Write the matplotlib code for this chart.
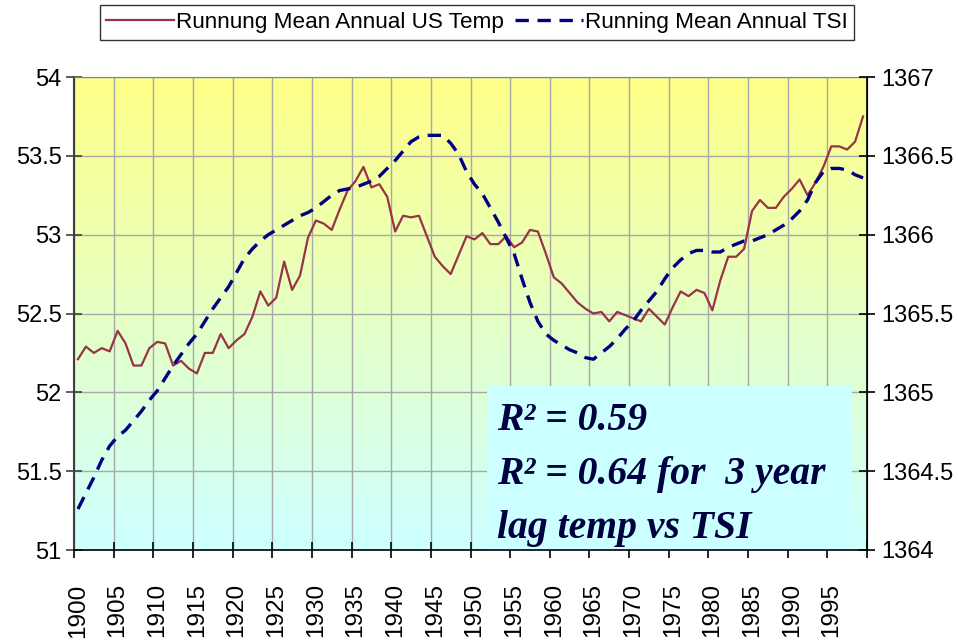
import numpy as np
import matplotlib
matplotlib.use("Agg")
import matplotlib.pyplot as plt
from matplotlib.patches import Rectangle

# Data (running means, one value per year)
years = list(range(1900, 2000))

us_temp = [
    52.21, 52.29, 52.25, 52.28, 52.26, 52.39, 52.31, 52.17, 52.17, 52.28,
    52.32, 52.31, 52.17, 52.20, 52.15, 52.12, 52.25, 52.25, 52.37, 52.28,
    52.33, 52.37, 52.48, 52.64, 52.55, 52.60, 52.83, 52.65, 52.74, 52.98,
    53.09, 53.07, 53.03, 53.16, 53.28, 53.34, 53.43, 53.30, 53.32, 53.24,
    53.02, 53.12, 53.11, 53.12, 52.99, 52.86, 52.80, 52.75, 52.87, 52.99,
    52.97, 53.01, 52.94, 52.94, 52.99, 52.92, 52.95, 53.03, 53.02, 52.88,
    52.73, 52.69, 52.63, 52.57, 52.53, 52.50, 52.51, 52.45, 52.51, 52.49,
    52.47, 52.45, 52.53, 52.48, 52.43, 52.54, 52.64, 52.61, 52.65, 52.63,
    52.52, 52.71, 52.86, 52.86, 52.91, 53.15, 53.22, 53.17, 53.17, 53.24,
    53.29, 53.35, 53.25, 53.33, 53.43, 53.56, 53.56, 53.54, 53.59, 53.75,
]

tsi = [
    1364.26, 1364.36, 1364.46, 1364.57, 1364.66, 1364.72, 1364.76, 1364.82, 1364.88, 1364.95,
    1365.01, 1365.09, 1365.17, 1365.24, 1365.31, 1365.37, 1365.45, 1365.53, 1365.60, 1365.67,
    1365.76, 1365.85, 1365.91, 1365.96, 1366.00, 1366.03, 1366.06, 1366.09, 1366.12, 1366.14,
    1366.17, 1366.21, 1366.25, 1366.28, 1366.29, 1366.30, 1366.32, 1366.34, 1366.37, 1366.42,
    1366.47, 1366.53, 1366.59, 1366.62, 1366.63, 1366.63, 1366.63, 1366.58, 1366.51, 1366.40,
    1366.32, 1366.26, 1366.17, 1366.08, 1365.98, 1365.88, 1365.72, 1365.57, 1365.45, 1365.37,
    1365.33, 1365.30, 1365.27, 1365.25, 1365.22, 1365.21, 1365.25, 1365.29, 1365.34, 1365.40,
    1365.45, 1365.52, 1365.58, 1365.64, 1365.72, 1365.79, 1365.84, 1365.88, 1365.90, 1365.90,
    1365.89, 1365.89, 1365.92, 1365.94, 1365.96, 1365.96, 1365.98, 1366.00, 1366.03, 1366.06,
    1366.10, 1366.15, 1366.22, 1366.33, 1366.40, 1366.42, 1366.42, 1366.41, 1366.38, 1366.36,
]

label_years = list(range(1900, 2000, 5))
temp_ticks = [51, 51.5, 52, 52.5, 53, 53.5, 54]
tsi_ticks = [1364, 1364.5, 1365, 1365.5, 1366, 1366.5, 1367]

temp_label = "Runnung Mean Annual US Temp"
tsi_label = "Running Mean Annual TSI"
note_lines = ["R\u00b2 = 0.59", "R\u00b2 = 0.64 for  3 year", "lag temp vs TSI"]

sans = ["Liberation Sans", "DejaVu Sans"]

fig = plt.figure(figsize=(9.58, 6.43), dpi=100)
fig.patch.set_facecolor("white")
ax = fig.add_axes([74 / 958, 1 - 550 / 643, 793 / 958, 473 / 643])

# Background gradient, light yellow on top to light cyan at the bottom
top = np.array([255, 255, 136]) / 255
bottom = np.array([204, 255, 255]) / 255
t = np.linspace(0, 1, 256)[:, None]
grad = (top * (1 - t) + bottom * t)[:, None, :]
ax.imshow(grad, extent=[0, 1, 0, 1], transform=ax.transAxes,
          aspect="auto", zorder=0, interpolation="bilinear")

# Points sit in the middle of each year's category
x = [y + 0.5 for y in years]
line_t, = ax.plot(x, us_temp, color="#993348", lw=1.6, zorder=3,
                  label=temp_label)

ax.set_xlim(1900, 2000)
ax.set_ylim(51, 54)
ax.set_yticks(temp_ticks)
ax.set_yticklabels(["51", "51.5", "52", "52.5", "53", "53.5", "54"])

ax.set_xticks(list(range(1900, 2001, 5)))
ax.set_xticklabels([])
ax.set_xticks([y + 0.5 for y in label_years], minor=True)
ax.set_xticklabels([str(y) for y in label_years], minor=True, rotation=90,
                   va="top", ha="center")
ax.tick_params(axis="x", which="minor", length=0, pad=24)
ax.tick_params(axis="x", which="major", direction="inout", length=12,
               width=1.2, color="black")
ax.tick_params(axis="y", direction="inout", length=12, width=1.2,
               color="#404040", pad=3)

ax.grid(True, which="major", color="#a8a8a8", lw=1, zorder=0.5)
ax.set_axisbelow(True)

for lab in ax.get_xticklabels(minor=True):
    lab.set_family(sans)
    lab.set_fontsize(17.5)
for lab in ax.get_yticklabels():
    lab.set_family(sans)
    lab.set_fontsize(17)

ax.spines["left"].set_color("#404040")
ax.spines["left"].set_linewidth(1.5)
ax.spines["bottom"].set_color("black")
ax.spines["bottom"].set_linewidth(1.2)
ax.spines["top"].set_color("#808080")
ax.spines["right"].set_color("black")

# R^2 note box
ax.add_patch(Rectangle(((487 - 74) / 793, 0), (852 - 487) / 793,
                       (550 - 386) / 473, transform=ax.transAxes,
                       facecolor="#ccffff", edgecolor="none", zorder=2))
for i, s in enumerate(note_lines):
    ax.text((497 - 74) / 793, (550 - 430 - i * 54) / 473, s,
            transform=ax.transAxes, fontsize=28.5, fontweight="bold",
            fontstyle="italic", family=["Liberation Serif", "DejaVu Serif"],
            color="#000040", ha="left", va="baseline", zorder=4)

# Right axis: TSI
ax2 = ax.twinx()
ax2.patch.set_visible(False)
line_s, = ax2.plot(x, tsi, color="#000080", lw=2.4, dashes=(4, 2.6),
                   zorder=3, label=tsi_label)
ax2.set_ylim(1364, 1367)
ax2.set_yticks(tsi_ticks)
ax2.set_yticklabels(["1364", "1364.5", "1365", "1365.5", "1366", "1366.5", "1367"])
ax2.tick_params(axis="y", direction="inout", length=12, width=1.2,
                color="black", pad=4)
for lab in ax2.get_yticklabels():
    lab.set_family(sans)
    lab.set_fontsize(17)
for side in ["left", "top", "bottom"]:
    ax2.spines[side].set_visible(False)
ax2.spines["right"].set_color("black")
ax2.spines["right"].set_linewidth(1.2)

leg = fig.legend(handles=[line_t, line_s], loc="upper center",
                 bbox_to_anchor=(477 / 958, 1 - 5 / 643), ncol=2,
                 frameon=True, fancybox=False, edgecolor="black",
                 prop={"family": sans, "size": 16.2}, handlelength=3.0,
                 handletextpad=0.1, columnspacing=0.5, borderpad=0.3,
                 borderaxespad=0)
leg.get_frame().set_linewidth(1.0)

fig.savefig("out.png", dpi=100)
